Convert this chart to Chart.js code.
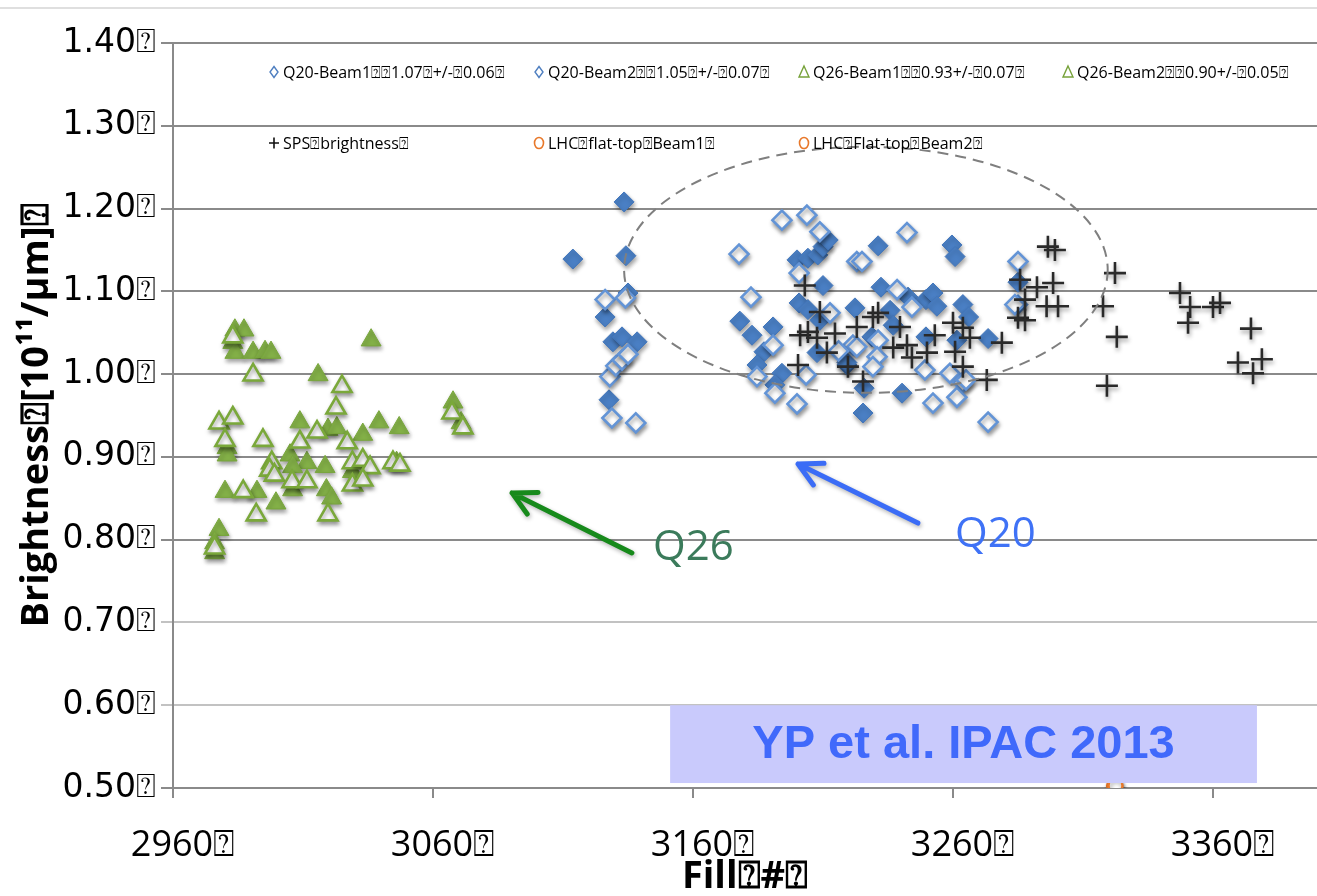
<!DOCTYPE html>
<html>
<head>
<meta charset="utf-8">
<script src="https://cdn.jsdelivr.net/npm/chart.js@4.4.1/dist/chart.umd.min.js"></script>
<style>
  html, body { margin: 0; padding: 0; background: #ffffff; overflow: hidden; }
  #wrap { width: 1317px; height: 896px; position: relative; overflow: hidden; }
  #c { display: block; }
</style>
</head>
<body>
<div id="wrap"><canvas id="c" width="1317" height="896"></canvas></div>
<script>
// ---------------- DATA ----------------
const X_TICKS = [2960, 3060, 3160, 3260, 3360];
const Y_TICKS = [0.50, 0.60, 0.70, 0.80, 0.90, 1.00, 1.10, 1.20, 1.30, 1.40];

const SERIES_NAMES = [
  'Q20-Beam1⍰⍰1.07⍰+/-⍰0.06⍰',
  'Q20-Beam2⍰⍰1.05⍰+/-⍰0.07⍰',
  'Q26-Beam1⍰⍰0.93+/-⍰0.07⍰',
  'Q26-Beam2⍰⍰0.90+/-⍰0.05⍰',
  'SPS⍰brightness⍰',
  'LHC⍰flat-top⍰Beam1⍰',
  'LHC⍰Flat-top⍰Beam2⍰'
];

const q20b1X = [3113.8, 3133.5, 3134.2, 3135.0, 3126.2, 3129.2, 3132.7, 3138.5, 3127.7, 3178.0,
                3182.7, 3190.8, 3187.3, 3184.6, 3194.2, 3191.5, 3200.0, 3204.2, 3208.0, 3210.0,
                3212.0, 3210.0, 3200.8, 3204.2, 3208.8, 3222.3, 3207.7, 3219.2, 3231.2, 3259.6,
                3260.8, 3232.3, 3242.7, 3249.6, 3252.3, 3253.8, 3235.8, 3237.0, 3263.8, 3266.0,
                3228.8, 3249.6, 3261.5, 3273.5, 3219.2, 3225.8, 3240.4, 3225.4, 3285.0, 3285.0];
const q20b1Y = [1.139, 1.208, 1.143, 1.098, 1.069, 1.039, 1.045, 1.039, 0.969, 1.064,
                1.047, 1.057, 1.027, 1.011, 1.001, 0.987, 1.138, 1.140, 1.144, 1.154,
                1.162, 1.107, 1.086, 1.078, 1.065, 1.080, 1.026, 1.011, 1.155, 1.156,
                1.142, 1.105, 1.093, 1.090, 1.098, 1.082, 1.077, 1.059, 1.084, 1.069,
                1.045, 1.045, 1.041, 1.043, 1.014, 0.983, 0.977, 0.953, 1.111, 1.084];

const q20b2X = [3126.2, 3134.0, 3128.0, 3130.3, 3132.7, 3135.0, 3128.8, 3138.0, 3194.2, 3203.8,
                3208.8, 3177.7, 3182.3, 3200.8, 3212.7, 3190.8, 3203.5, 3191.5, 3200.0, 3223.0,
                3221.5, 3184.6, 3242.3, 3225.0, 3285.0, 3238.5, 3244.2, 3231.2, 3223.0, 3230.8,
                3229.2, 3249.2, 3258.8, 3263.8, 3252.3, 3261.5, 3273.5, 3283.8, 3265.0, 3216.0];
const q20b2Y = [1.090, 1.092, 0.997, 1.010, 1.017, 1.024, 0.947, 0.941, 1.186, 1.192,
                1.172, 1.145, 1.093, 1.122, 1.074, 1.035, 0.999, 0.977, 0.964, 1.136,
                1.035, 0.997, 1.171, 1.136, 1.136, 1.102, 1.081, 1.041, 1.033, 1.021,
                1.009, 1.005, 1.001, 0.990, 0.965, 0.972, 0.942, 1.084, 0.993, 1.028];

const q26b1X = [2983.8, 2987.3, 2983.0, 2983.8, 2990.8, 2995.4, 2997.7, 3036.2, 3015.8, 3067.7,
                3070.8, 2980.8, 2980.8, 3008.8, 3019.6, 3023.0, 3033.0, 3039.2, 3047.0, 3005.0,
                3011.5, 3006.0, 3006.0, 3018.5, 3019.0, 3021.0, 3029.0, 3046.0, 2980.0, 2992.3,
                2999.6, 2977.7, 2976.0, 2976.0];
const q26b1Y = [1.053, 1.053, 1.038, 1.026, 1.026, 1.027, 1.026, 1.041, 0.999, 0.966,
                0.941, 0.911, 0.902, 0.942, 0.933, 0.935, 0.927, 0.942, 0.935, 0.902,
                0.893, 0.888, 0.860, 0.888, 0.860, 0.850, 0.882, 0.893, 0.858, 0.858,
                0.844, 0.812, 0.796, 0.784];

const q26b2X = [2983.0, 2990.8, 3025.0, 3067.3, 3071.5, 3022.7, 2977.7, 2983.0, 2980.0, 2994.6,
                3008.8, 3015.4, 3027.0, 2998.0, 2997.2, 2999.0, 3005.8, 3011.5, 3019.6, 3029.0,
                3033.0, 3035.8, 3029.0, 3033.0, 3044.6, 3047.3, 2987.0, 2992.0, 2976.0];
const q26b2Y = [1.045, 0.999, 0.985, 0.953, 0.935, 0.959, 0.941, 0.947, 0.920, 0.920,
                0.918, 0.930, 0.917, 0.893, 0.884, 0.878, 0.870, 0.870, 0.830, 0.893,
                0.896, 0.887, 0.866, 0.872, 0.893, 0.890, 0.858, 0.830, 0.790];

const spsX = [3203.0, 3208.8, 3201.2, 3204.2, 3207.7, 3214.6, 3211.5, 3200.4, 3219.6, 3223.0,
              3231.2, 3229.2, 3239.6, 3237.0, 3242.3, 3244.2, 3250.0, 3253.0, 3263.8, 3266.5,
              3260.8, 3263.8, 3260.0, 3225.4, 3278.8, 3273.0, 3285.8, 3292.3, 3298.5, 3287.7,
              3296.0, 3300.4, 3285.0, 3287.7, 3296.5, 3299.2, 3322.3, 3317.7, 3323.0, 3319.2,
              3347.3, 3351.2, 3350.4, 3360.0, 3362.7, 3374.6, 3369.6, 3378.8, 3375.4];
const spsY = [1.107, 1.075, 1.047, 1.051, 1.044, 1.049, 1.026, 1.011, 1.009, 1.057,
              1.074, 1.069, 1.057, 1.032, 1.035, 1.020, 1.026, 1.047, 1.056, 1.044,
              1.027, 1.009, 1.062, 0.991, 1.038, 0.993, 1.114, 1.105, 1.110, 1.090,
              1.082, 1.082, 1.068, 1.065, 1.154, 1.150, 1.122, 1.082, 1.045, 0.986,
              1.098, 1.081, 1.062, 1.081, 1.086, 1.055, 1.014, 1.018, 1.001];

const lhc1X = [3322];
const lhc1Y = [0.503];
const lhc2X = [3322.5];
const lhc2Y = [0.503];

// annotations (data coordinates)
const ELLIPSE = { cx: 3226.5, cy: 1.126, rx: 93, ry: 0.1486 };
const ARROW_Q26 = { x0: 3136.5, y0: 0.784, x1: 3090.4, y1: 0.8565 };
const ARROW_Q20 = { x0: 3246.5, y0: 0.820, x1: 3200.4, y1: 0.8915 };
const LABEL_Q26 = { text: 'Q26', x: 3144.6, y: 0.790 };
const LABEL_Q20 = { text: 'Q20', x: 3260.8, y: 0.806 };
const CREDIT = { text: 'YP et al. IPAC 2013', x0: 3151.2, x1: 3376.9, y0: 0.600, y1: 0.506 };

// ---------------- HELPERS ----------------
function pts(xs, ys) { return xs.map((x, i) => ({ x: x, y: ys[i] })); }

const BLUE_FILL = '#4a7fc4';
const BLUE_EDGE = '#6394d6';
const GREEN_FILL = '#84b148';
const GREEN_EDGE = '#7aa83a';
const CROSS = '#2a2a2a';
const ORANGE = '#e8782a';

const datasets = [
  { label: SERIES_NAMES[0], data: pts(q20b1X, q20b1Y), pointStyle: 'rectRot', pointRadius: 10,
    backgroundColor: BLUE_FILL, borderColor: '#4276bb', borderWidth: 1, order: 6 },
  { label: SERIES_NAMES[1], data: pts(q20b2X, q20b2Y), pointStyle: 'rectRot', pointRadius: 9.5,
    backgroundColor: '#ffffff', borderColor: BLUE_EDGE, borderWidth: 2.6, order: 5 },
  { label: SERIES_NAMES[2], data: pts(q26b1X, q26b1Y), pointStyle: 'triangle', pointRadius: 11.5,
    backgroundColor: GREEN_FILL, borderColor: '#78a63c', borderWidth: 1, order: 4 },
  { label: SERIES_NAMES[3], data: pts(q26b2X, q26b2Y), pointStyle: 'triangle', pointRadius: 11,
    backgroundColor: '#ffffff', borderColor: GREEN_EDGE, borderWidth: 2.6, order: 3 },
  { label: SERIES_NAMES[4], data: pts(spsX, spsY), pointStyle: 'cross', pointRadius: 11,
    backgroundColor: CROSS, borderColor: CROSS, borderWidth: 2.6, order: 2 },
  { label: SERIES_NAMES[5], data: pts(lhc1X, lhc1Y), pointStyle: 'circle', pointRadius: 7,
    backgroundColor: '#ffffff', borderColor: ORANGE, borderWidth: 2.5, order: 1 },
  { label: SERIES_NAMES[6], data: pts(lhc2X, lhc2Y), pointStyle: 'circle', pointRadius: 7,
    backgroundColor: '#ffffff', borderColor: ORANGE, borderWidth: 2.5, order: 0 }
];

// ---------------- PLUGINS ----------------
const shadowPlugin = {
  id: 'shadow',
  beforeDatasetsDraw(chart) {
    const c = chart.ctx;
    c.save();
    c.shadowColor = 'rgba(0,0,0,0.38)';
    c.shadowBlur = 4;
    c.shadowOffsetX = 1;
    c.shadowOffsetY = 3;
  },
  afterDatasetsDraw(chart) { chart.ctx.restore(); }
};

function drawArrow(c, xs, ys, a, color) {
  const x0 = xs.getPixelForValue(a.x0), y0 = ys.getPixelForValue(a.y0);
  const x1 = xs.getPixelForValue(a.x1), y1 = ys.getPixelForValue(a.y1);
  const ang = Math.atan2(y1 - y0, x1 - x0);
  const L = 26, spread = Math.PI / 6.5;
  c.save();
  c.shadowColor = 'rgba(0,0,0,0.3)';
  c.shadowBlur = 4; c.shadowOffsetX = 1; c.shadowOffsetY = 2;
  c.strokeStyle = color; c.lineWidth = 5; c.lineCap = 'round'; c.lineJoin = 'round';
  c.beginPath();
  c.moveTo(x0, y0); c.lineTo(x1, y1);
  c.moveTo(x1 - L * Math.cos(ang - spread), y1 - L * Math.sin(ang - spread));
  c.lineTo(x1, y1);
  c.lineTo(x1 - L * Math.cos(ang + spread), y1 - L * Math.sin(ang + spread));
  c.stroke();
  c.restore();
}

const annotationPlugin = {
  id: 'annot',
  beforeDraw(chart) {
    const c = chart.ctx;
    c.save();
    c.strokeStyle = '#d4d4d4'; c.lineWidth = 1.5;
    c.beginPath(); c.moveTo(0, 8); c.lineTo(chart.width, 8); c.stroke();
    c.restore();
  },
  afterDatasetsDraw(chart) {
    const c = chart.ctx, xs = chart.scales.x, ys = chart.scales.y;
    // dashed ellipse
    const ex = xs.getPixelForValue(ELLIPSE.cx), ey = ys.getPixelForValue(ELLIPSE.cy);
    const erx = xs.getPixelForValue(ELLIPSE.cx + ELLIPSE.rx) - ex;
    const ery = ey - ys.getPixelForValue(ELLIPSE.cy + ELLIPSE.ry);
    c.save();
    c.strokeStyle = '#7f7f7f'; c.lineWidth = 2; c.setLineDash([11, 7]);
    c.beginPath(); c.ellipse(ex, ey, erx, ery, 0, 0, Math.PI * 2); c.stroke();
    c.restore();

    // credit box
    const bx0 = xs.getPixelForValue(CREDIT.x0), bx1 = xs.getPixelForValue(CREDIT.x1);
    const by0 = ys.getPixelForValue(CREDIT.y0), by1 = ys.getPixelForValue(CREDIT.y1);
    c.save();
    c.fillStyle = '#c9cafc';
    c.fillRect(bx0, by0, bx1 - bx0, by1 - by0);
    c.fillStyle = '#4069fb';
    c.font = 'bold 47px "Liberation Sans", Arial, sans-serif';
    c.textAlign = 'center'; c.textBaseline = 'middle';
    c.fillText(CREDIT.text, (bx0 + bx1) / 2, (by0 + by1) / 2 + 1);
    c.restore();

    // arrows
    drawArrow(c, xs, ys, ARROW_Q26, '#178a1b');
    drawArrow(c, xs, ys, ARROW_Q20, '#3b6cf6');

    // labels
    c.save();
    c.font = '42px "Open Sans", sans-serif';
    c.textAlign = 'left'; c.textBaseline = 'middle';
    c.fillStyle = '#3b7b5b';
    c.fillText(LABEL_Q26.text, xs.getPixelForValue(LABEL_Q26.x), ys.getPixelForValue(LABEL_Q26.y));
    c.fillStyle = '#3f72f6';
    c.fillText(LABEL_Q20.text, xs.getPixelForValue(LABEL_Q20.x), ys.getPixelForValue(LABEL_Q20.y));
    c.restore();
  },
  afterDraw(chart) {
    // custom legend in two rows inside the plot
    const c = chart.ctx, a = chart.chartArea;
    const cols = [a.left + 101, a.left + 366, a.left + 631, a.left + 895];
    const rows = [a.top + 29, a.top + 100];
    const slots = [[0, 0], [0, 1], [0, 2], [0, 3], [1, 0], [1, 1], [1, 2]];
    c.save();
    c.font = '16px "Open Sans", sans-serif';
    c.textBaseline = 'middle'; c.textAlign = 'left';
    datasets.forEach((d, i) => {
      const mx = cols[slots[i][1]], my = rows[slots[i][0]];
      c.lineWidth = 1.4;
      c.beginPath();
      if (d.pointStyle === 'rectRot') {
        c.strokeStyle = '#4f7fc0';
        c.moveTo(mx, my - 5.5); c.lineTo(mx + 4, my); c.lineTo(mx, my + 5.5); c.lineTo(mx - 4, my); c.closePath();
      } else if (d.pointStyle === 'triangle') {
        c.strokeStyle = '#77a23a';
        c.moveTo(mx, my - 6); c.lineTo(mx + 5, my + 5); c.lineTo(mx - 5, my + 5); c.closePath();
      } else if (d.pointStyle === 'cross') {
        c.strokeStyle = '#111'; c.lineWidth = 1.6;
        c.moveTo(mx - 5, my); c.lineTo(mx + 5, my); c.moveTo(mx, my - 5.5); c.lineTo(mx, my + 5.5);
      } else {
        c.strokeStyle = ORANGE; c.lineWidth = 1.6;
        c.ellipse(mx, my, 4.5, 5.5, 0, 0, Math.PI * 2);
      }
      c.stroke();
      c.fillStyle = '#000';
      c.fillText(d.label, mx + 9, my + 1);
    });
    c.restore();
  }
};

// ---------------- CHART ----------------
new Chart(document.getElementById('c'), {
  type: 'scatter',
  data: { datasets: datasets },
  options: {
    responsive: false,
    animation: false,
    events: [],
    layout: { autoPadding: false, padding: { top: 43, left: 0, right: 0, bottom: 0 } },
    plugins: { legend: { display: false }, tooltip: { enabled: false } },
    scales: {
      x: {
        type: 'linear',
        min: 2960, max: 3400,
        afterBuildTicks: s => { s.ticks = X_TICKS.map(v => ({ value: v })); },
        afterFit: s => { s.height = 108; s.paddingLeft = 0; s.paddingRight = 0; },
        grid: { drawOnChartArea: false, drawTicks: true, tickLength: 10, color: '#8a8a8a', lineWidth: 2 },
        border: { display: true, color: '#8a8a8a', width: 2 },
        ticks: {
          font: { family: '"Open Sans", sans-serif', size: 36 },
          color: '#000', padding: 26, maxRotation: 0, autoSkip: false, labelOffset: 10,
          callback: v => v + '⍰'
        },
        title: {
          display: true, text: 'Fill⍰#⍰', color: '#000',
          font: { family: '"Open Sans", sans-serif', size: 38, weight: 'bold' },
          padding: { top: 0, bottom: -4 }
        }
      },
      y: {
        type: 'linear',
        min: 0.5, max: 1.4,
        afterBuildTicks: s => { s.ticks = Y_TICKS.map(v => ({ value: v })); },
        afterFit: s => { s.width = 173; },
        grid: {
          drawOnChartArea: true, drawTicks: true, tickLength: 12, lineWidth: 2,
          color: c => (c.tick && (Math.abs(c.tick.value - 0.6) < 1e-6 || Math.abs(c.tick.value - 0.7) < 1e-6)) ? '#c2c2c2' : '#8a8a8a'
        },
        border: { display: true, color: '#8a8a8a', width: 2 },
        ticks: {
          font: { family: '"DejaVu Sans", sans-serif', size: 33 },
          color: '#000', padding: 5, autoSkip: false,
          callback: v => Number(v).toFixed(2) + '⍰'
        },
        title: {
          display: true, text: 'Brightness⍰[10¹¹/µm]⍰', color: '#000',
          font: { family: '"Open Sans", sans-serif', size: 38, weight: 'bold' },
          padding: { top: 14, bottom: 0 }
        }
      }
    }
  },
  plugins: [shadowPlugin, annotationPlugin]
});
</script>
</body>
</html>
